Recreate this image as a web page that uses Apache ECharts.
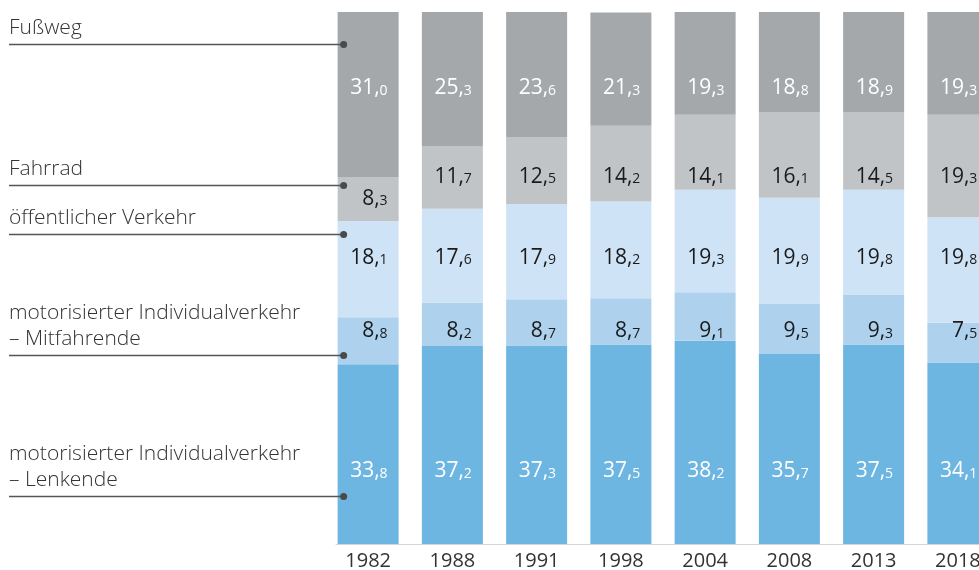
<!DOCTYPE html>
<html>
<head>
<meta charset="utf-8">
<script src="https://cdn.jsdelivr.net/npm/echarts@6/dist/echarts.min.js"></script>
<style>
  html, body { margin: 0; padding: 0; background: #fff; }
  #chart { width: 979px; height: 570px; }
</style>
</head>
<body>
<div id="chart"></div>
<script>
const years = ['1982', '1988', '1991', '1998', '2004', '2008', '2013', '2018'];
const lenkende = [33.8, 37.2, 37.3, 37.5, 38.2, 35.7, 37.5, 34.1];
const mitfahrende = [8.8, 8.2, 8.7, 8.7, 9.1, 9.5, 9.3, 7.5];
const oev = [18.1, 17.6, 17.9, 18.2, 19.3, 19.9, 19.8, 19.8];
const fahrrad = [8.3, 11.7, 12.5, 14.2, 14.1, 16.1, 14.5, 19.3];
const fussweg = [31.0, 25.3, 23.6, 21.3, 19.3, 18.8, 18.9, 19.3];

const names = [
    'motorisierter Individualverkehr\n– Lenkende',
    'motorisierter Individualverkehr\n– Mitfahrende',
    'öffentlicher Verkehr',
    'Fahrrad',
    'Fußweg'
];
// height on the 1982 bar where each leader line ends
const leaderValues = [9.0, 35.5, 58.3, 67.5, 94.0];
// value labels sit on a common level per series (if it fits in the segment)
const labelLevels = [13.7, 40.0, 53.8, 69.0, 85.7];

const colors = ['#6eb6e2', '#aed2ee', '#cfe3f6', '#c1c4c7', '#a4a8ab'];
const labelColors = ['#ffffff', '#1a1a1a', '#1a1a1a', '#1a1a1a', '#ffffff'];

const chart = echarts.init(document.getElementById('chart'));

function fmt(p) {
    const s = p.value.toFixed(1).split('.');
    return '{i|' + s[0] + ',}{d|' + s[1] + '}';
}

const seriesData = [lenkende, mitfahrende, oev, fahrrad, fussweg];

function buildSeries(pxPerUnit) {
    return seriesData.map((d, i) => ({
        name: names[i],
        type: 'bar',
        stack: 'total',
        barWidth: 61,
        itemStyle: { color: colors[i] },
        data: d.map((v, j) => {
            let bottom = 0;
            for (let k = 0; k < i; k++) bottom += seriesData[k][j];
            const top = bottom + v;
            const center = (bottom + top) / 2;
            let level = labelLevels[i];
            if (level < bottom + 1.5 || level > top - 1.5) level = center;
            return { value: v, label: { offset: [0, (center - level) * pxPerUnit] } };
        }),
        label: {
            show: true,
            position: 'insideRight',
            distance: 11,
            formatter: fmt,
            rich: {
                i: { fontFamily: 'Open Sans', fontSize: 21, color: labelColors[i] },
                d: { fontFamily: 'Open Sans', fontSize: 14, color: labelColors[i], padding: [5, 0, 0, 0] }
            }
        }
    }));
}

chart.setOption({
    animation: false,
    grid: { left: 326, right: -21, top: 12, bottom: 26, outerBoundsMode: 'none', containLabel: false },
    xAxis: {
        type: 'category',
        data: years,
        axisLine: { show: false },
        axisTick: { show: false },
        axisLabel: { color: '#333', fontFamily: 'Open Sans', fontSize: 20, margin: 7 }
    },
    yAxis: {
        type: 'value',
        min: 0,
        max: 100,
        show: false
    },
    series: buildSeries(0)
});

const pxPerUnit = chart.convertToPixel({ yAxisIndex: 0 }, 0) - chart.convertToPixel({ yAxisIndex: 0 }, 1);
chart.setOption({ series: buildSeries(pxPerUnit) });

// leader lines, dots and category texts on the left
const x0 = chart.convertToPixel({ xAxisIndex: 0 }, '1982');
const barLeft = x0 - 61 / 2;
const dotX = barLeft + 6;
const axisY = chart.convertToPixel({ yAxisIndex: 0 }, 0);
const graphic = [{
    type: 'line',
    z: 100,
    shape: { x1: barLeft - 2, y1: axisY + 0.5, x2: 979, y2: axisY + 0.5 },
    style: { stroke: '#d4d4d4', lineWidth: 1 }
}];
leaderValues.forEach((v, i) => {
    const y = Math.round(chart.convertToPixel({ yAxisIndex: 0 }, v)) + 0.5;
    graphic.push({
        type: 'line',
        z: 100,
        shape: { x1: 9, y1: y, x2: dotX, y2: y },
        style: { stroke: '#555', lineWidth: 1.5 }
    });
    graphic.push({
        type: 'circle',
        z: 101,
        shape: { cx: dotX, cy: y, r: 3.5 },
        style: { fill: '#4a4a4a' }
    });
    graphic.push({
        type: 'text',
        z: 100,
        style: {
            text: names[i],
            x: 9,
            y: y - 3,
            fill: '#333',
            font: '300 21px "Open Sans"',
            lineHeight: 26,
            verticalAlign: 'bottom'
        }
    });
});
chart.setOption({ graphic: graphic });
</script>
</body>
</html>
